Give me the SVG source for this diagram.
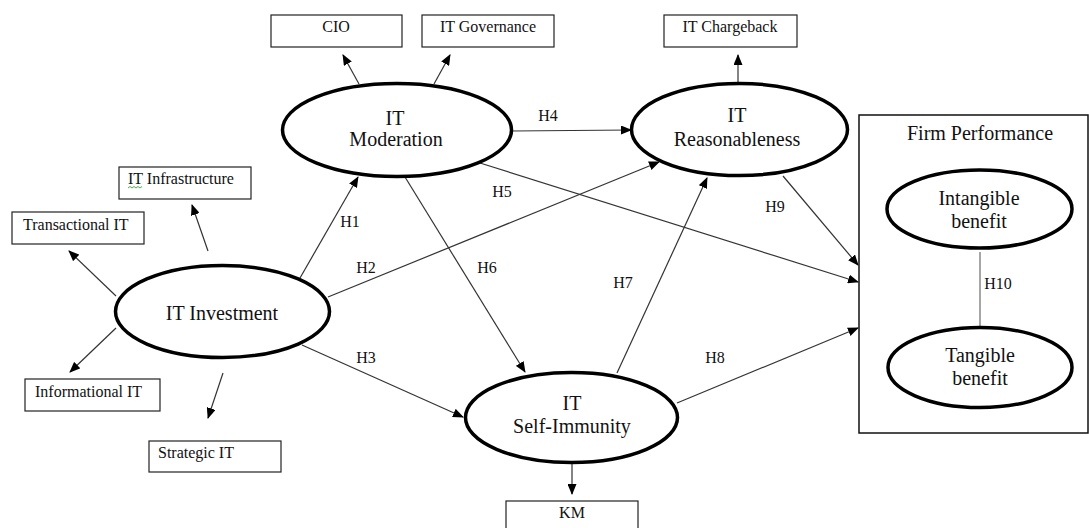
<svg xmlns="http://www.w3.org/2000/svg" width="1089" height="528" viewBox="0 0 1089 528">
<defs>
<marker id="ah" markerUnits="userSpaceOnUse" markerWidth="11" markerHeight="9" refX="10" refY="4.5" orient="auto">
<path d="M0,0 L11,4.5 L0,9 z" fill="#000"/>
</marker>
<style>
.box{fill:#fff;stroke:#222;stroke-width:1.2}
.ell{fill:#fff;stroke:#000;stroke-width:3.5}
.st{font-family:"Liberation Serif","Times New Roman",serif;font-size:16px;fill:#111}
.big{font-family:"Liberation Serif","Times New Roman",serif;font-size:20px;fill:#111;text-anchor:middle}
.lab{font-family:"Liberation Serif","Times New Roman",serif;font-size:16px;fill:#111;text-anchor:middle}
.c{stroke:#333;stroke-width:1.2;fill:none;marker-end:url(#ah)}
</style>
</defs>
<rect width="1089" height="528" fill="#fff"/>

<g id="connectors">
<line class="c" x1="208" y1="251" x2="192" y2="205"/>
<line class="c" x1="116" y1="296" x2="69" y2="251"/>
<line class="c" x1="116" y1="328" x2="70" y2="372"/>
<line class="c" x1="223" y1="373" x2="208" y2="418"/>
<line class="c" x1="359" y1="84" x2="343" y2="55"/>
<line class="c" x1="434" y1="84" x2="450" y2="55"/>
<line class="c" x1="738" y1="83" x2="738" y2="55"/>
<line class="c" x1="572" y1="463" x2="572" y2="494"/>
<line class="c" x1="300" y1="278" x2="358" y2="177"/>
<line class="c" x1="328" y1="297" x2="659" y2="162"/>
<line class="c" x1="302" y1="345" x2="463" y2="417"/>
<line class="c" x1="512" y1="131" x2="631" y2="130"/>
<line class="c" x1="480" y1="163" x2="858" y2="282"/>
<line class="c" x1="405" y1="177" x2="525" y2="372"/>
<line class="c" x1="617" y1="373" x2="707" y2="178"/>
<line class="c" x1="677" y1="403" x2="858" y2="328"/>
<line class="c" x1="783" y1="176" x2="858" y2="265"/>
<line x1="980" y1="252" x2="980" y2="327" stroke="#888" stroke-width="1.5"/>
<text class="lab" x="350" y="227">H1</text>
<text class="lab" x="366" y="273">H2</text>
<text class="lab" x="366" y="363">H3</text>
<text class="lab" x="548" y="121">H4</text>
<text class="lab" x="502" y="197">H5</text>
<text class="lab" x="487" y="273">H6</text>
<text class="lab" x="623" y="288">H7</text>
<text class="lab" x="715" y="363">H8</text>
<text class="lab" x="775" y="212">H9</text>
<text class="lab" x="998" y="289">H10</text>
</g>

<g id="cio"><rect class="box" x="271" y="15" width="131" height="32"/><text class="st" x="336" y="32" text-anchor="middle">CIO</text></g>
<g id="itgov"><rect class="box" x="422" y="15" width="132" height="32"/><text class="st" x="488" y="32" text-anchor="middle">IT Governance</text></g>
<g id="itcharge"><rect class="box" x="664" y="15" width="133" height="32"/><text class="st" x="730" y="32" text-anchor="middle">IT Chargeback</text></g>
<g id="itinfra"><rect class="box" x="119" y="167" width="132" height="32"/><text class="st" x="128" y="184">IT Infrastructure</text>
<path d="M128,188 l2,-1.5 l2,1.5 l2,-1.5 l2,1.5 l2,-1.5 l2,1.5 l2,-1.5" stroke="#3a3" stroke-width="0.9" fill="none"/></g>
<g id="transit"><rect class="box" x="12" y="212" width="132" height="32"/><text class="st" x="23" y="230">Transactional IT</text></g>
<g id="infoit"><rect class="box" x="25" y="379" width="135" height="32"/><text class="st" x="35" y="397">Informational IT</text></g>
<g id="stratit"><rect class="box" x="149" y="441" width="132" height="31"/><text class="st" x="158" y="458">Strategic IT</text></g>
<g id="km"><rect class="box" x="506" y="501" width="132" height="32"/><text class="st" x="572" y="518" text-anchor="middle">KM</text></g>

<g id="investment"><ellipse class="ell" cx="222.5" cy="311.5" rx="107" ry="46"/><text class="big" x="222" y="320">IT Investment</text></g>
<g id="moderation"><ellipse class="ell" cx="397" cy="130" rx="114.5" ry="46.5"/><text class="big" x="395" y="125">IT</text><text class="big" x="396" y="146">Moderation</text></g>
<g id="reasonableness"><ellipse class="ell" cx="739.5" cy="129.5" rx="108" ry="46"/><text class="big" x="737" y="122">IT</text><text class="big" x="737" y="146">Reasonableness</text></g>
<g id="selfimmunity"><ellipse class="ell" cx="571.5" cy="417.5" rx="106" ry="45"/><text class="big" x="572" y="410">IT</text><text class="big" x="572" y="433">Self-Immunity</text></g>

<g id="firmperformance">
<rect x="859" y="115" width="229" height="318" fill="none" stroke="#111" stroke-width="1.5"/>
<text class="big" x="980" y="140">Firm Performance</text>
</g>
<g id="intangible"><ellipse class="ell" cx="979.5" cy="209" rx="92.5" ry="39"/><text class="big" x="979" y="205">Intangible</text><text class="big" x="979" y="228">benefit</text></g>
<g id="tangible"><ellipse class="ell" cx="980" cy="367.5" rx="92" ry="40"/><text class="big" x="980" y="362">Tangible</text><text class="big" x="980" y="385">benefit</text></g>
</svg>
